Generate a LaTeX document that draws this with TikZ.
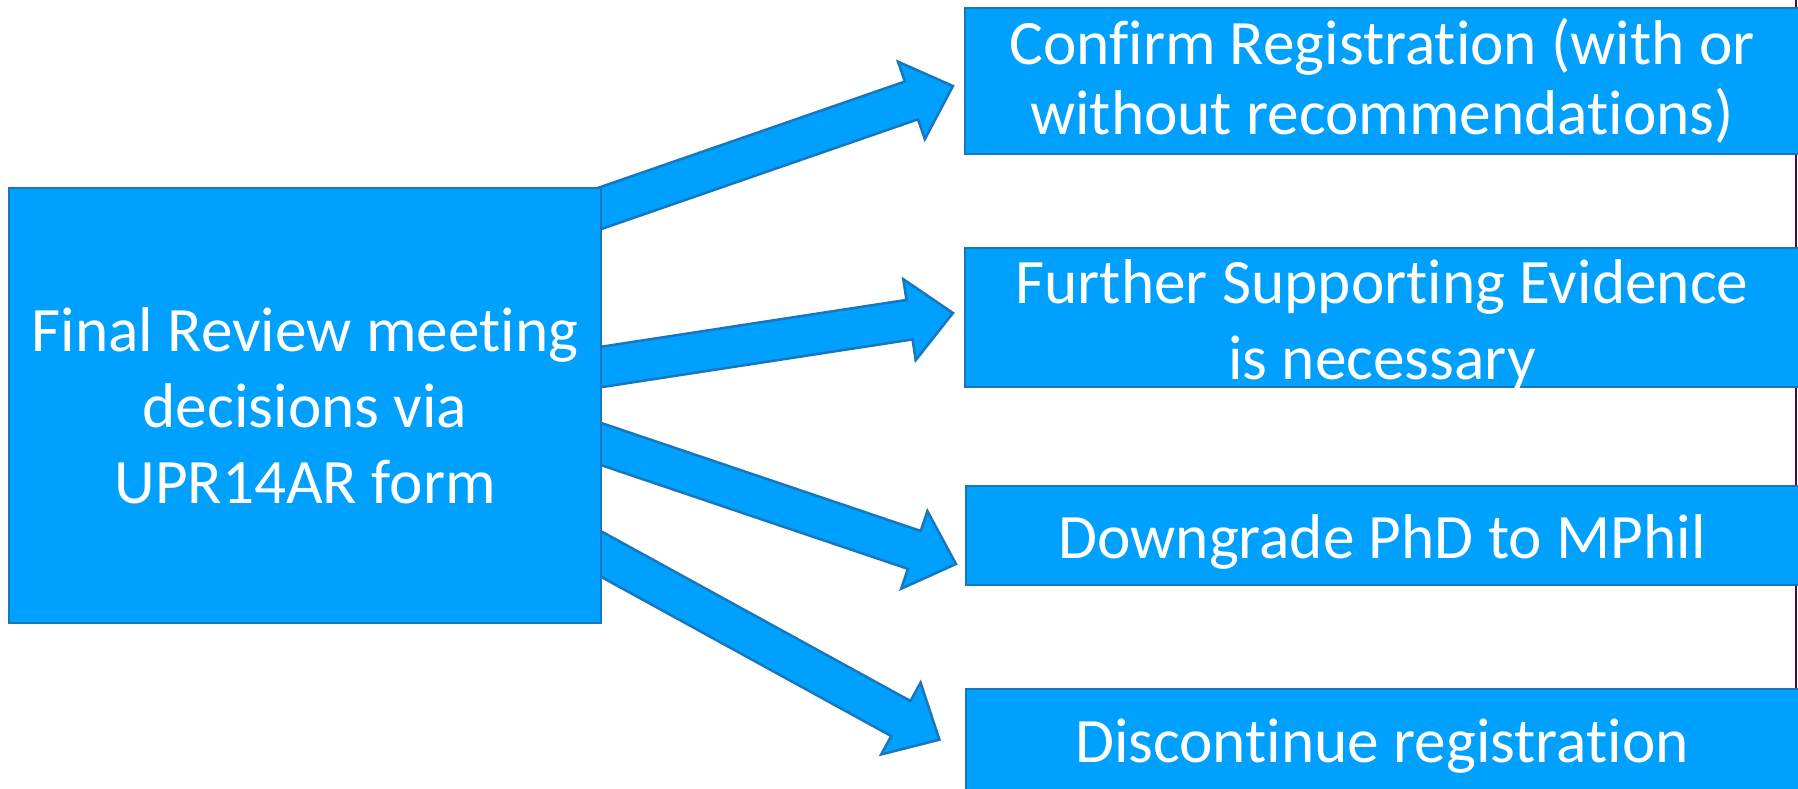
\documentclass[tikz,border=0pt]{standalone}
\usepackage{fontspec}
\setmainfont{Carlito}[RawFeature={-liga;-clig;-calt;-dlig}]
\usetikzlibrary{calc}
\definecolor{boxfill}{RGB}{0,160,255}
\definecolor{boxline}{RGB}{22,118,190}
\definecolor{edgeline}{RGB}{70,10,70}
\tikzset{
  decision/.style={draw=boxline, fill=boxfill, line width=0.7pt, inner sep=0pt},
  boxtext/.style={text=white, font=\fontsize{18}{21.6}\selectfont, align=center, inner sep=0pt},
  blockarrow/.style={draw=boxline, fill=boxfill, line width=0.7pt, line join=miter},
}
% block arrow from #1 to #2: shaft half-width, head half-width, head length
\newcommand\blockarrow[2]{%
  \path[blockarrow] let \p1=(#1), \p2=(#2),
    \n1={atan2(\y2-\y1,\x2-\x1)}, \n2={veclen(\x2-\x1,\y2-\y1)} in
    [shift={(\p1)}, rotate=\n1]
    (-14pt,-0.2cm) -- (\n2-0.44cm,-0.2cm) -- (\n2-0.44cm,-0.41cm) -- (\n2,0pt)
    -- (\n2-0.44cm,0.41cm) -- (\n2-0.44cm,0.2cm) -- (-14pt,0.2cm) -- cycle;}
\begin{document}
\begin{tikzpicture}[x=0.01cm, y=-0.01cm]
  \useasboundingbox (0,0) rectangle (1798,788);
  \clip (0,0) rectangle (1798,788);
  % thin rule along the right edge, behind the outcome boxes
  \draw[edgeline, line width=0.8pt] (1796,0) coordinate (r1) -- (1796,788) coordinate (r2);
  % tails (on the source box) and tips of the four block arrows
  \coordinate (t1) at (601,208);  \coordinate (h1) at (953,86);
  \coordinate (t2) at (601,367);  \coordinate (h2) at (953,313);
  \coordinate (t3) at (601,444);  \coordinate (h3) at (956,564);
  \coordinate (t4) at (601,554);  \coordinate (h4) at (940,740);
  \blockarrow{t1}{h1}
  \blockarrow{t2}{h2}
  \blockarrow{t3}{h3}
  \blockarrow{t4}{h4}
  % source box
  \node[decision, minimum width=592*0.01cm, minimum height=435*0.01cm] (src) at (305,405.5) {};
  \node[boxtext] (srctext) at (305,406) {Final Review meeting\\decisions via\\UPR14AR form};
  % outcome boxes
  \node[decision, minimum width=840*0.01cm, minimum height=146*0.01cm] (o1) at (1385,81) {};
  \node[decision, minimum width=840*0.01cm, minimum height=139*0.01cm] (o2) at (1385,317.5) {};
  \node[decision, minimum width=840*0.01cm, minimum height=99*0.01cm] (o3) at (1386,535.5) {};
  \node[decision, minimum width=840*0.01cm, minimum height=120*0.01cm] (o4) at (1386,749) {};
  \node[boxtext, font=\fontsize{18}{20}\selectfont] (o1text) at (1382,81) {Confirm Registration (with or\\without recommendations)};
  \node[boxtext] (o2text) at (1382,325) {Further Supporting Evidence\\is necessary};
  \node[boxtext] (o3text) at (1382,542) {Downgrade PhD to MPhil};
  \node[boxtext] (o4text) at (1382,746) {Discontinue registration};
\end{tikzpicture}
\end{document}
